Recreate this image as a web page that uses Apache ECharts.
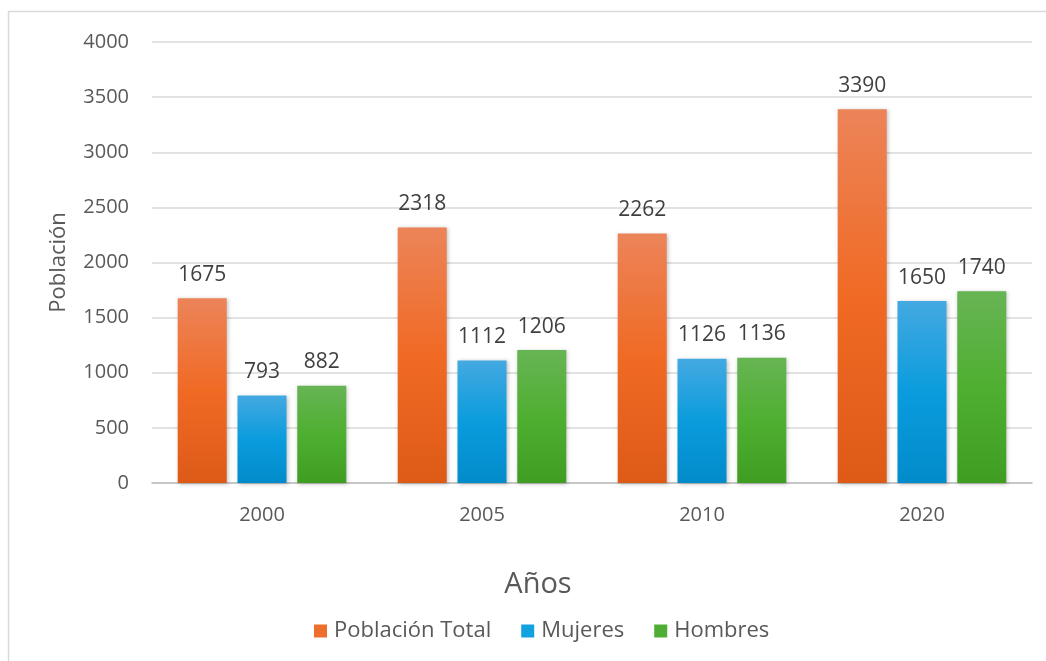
<!DOCTYPE html>
<html><head><meta charset="utf-8">
<script src="https://cdn.jsdelivr.net/npm/echarts@6/dist/echarts.min.js"></script>
<style>html,body{margin:0;padding:0;background:#fff}#c{width:1046px;height:661px}</style>
</head><body><div id="c"></div>
<script>
const categories = ['2000', '2005', '2010', '2020'];
const poblacionTotal = [1675, 2318, 2262, 3390];
const mujeres = [793, 1112, 1126, 1650];
const hombres = [882, 1206, 1136, 1740];
const yTicks = [0, 500, 1000, 1500, 2000, 2500, 3000, 3500, 4000];
const xTitle = 'Años';

const font = '"Open Sans", "Noto Sans", sans-serif';
function grad(top, mid, bot) {
  return new echarts.graphic.LinearGradient(0, 0, 0, 1, [
    {offset: 0, color: top}, {offset: 0.5, color: mid}, {offset: 1, color: bot}]);
}
const chart = echarts.init(document.getElementById('c'), null, {renderer: 'canvas'});
const labelCfg = {show: true, position: 'top', distance: 13, color: '#404040', fontSize: 21, fontFamily: font};
const shadow = {shadowColor: 'rgba(0,0,0,0.25)', shadowBlur: 4, shadowOffsetX: 1, shadowOffsetY: 1};
chart.setOption({
  animation: false,
  textStyle: {fontFamily: font},
  graphic: [
    {type: 'rect', shape: {x: 8.5, y: 11.5, width: 1100, height: 700}, style: {fill: 'none', stroke: '#d9d9d9', lineWidth: 1.5}, z: -1},
    {type: 'text', x: 538, y: 585, style: {text: xTitle, fontSize: 29, fill: '#595959', fontFamily: font, align: 'center', verticalAlign: 'middle'}}
  ],
  legend: {
    bottom: 14, left: 309, itemWidth: 13, itemHeight: 13, itemGap: 30,
    icon: 'rect',
    textStyle: {fontSize: 22, color: '#595959', fontFamily: font, padding: [0, 0, 0, 2]},
    data: [
      {name: 'Población Total', itemStyle: {color: '#EE6F2D'}},
      {name: 'Mujeres', itemStyle: {color: '#14A1E0'}},
      {name: 'Hombres', itemStyle: {color: '#4EAE33'}}
    ]
  },
  grid: {left: 152, right: 14, top: 42, bottom: 178, containLabel: false},
  xAxis: {
    type: 'category', data: categories,
    axisLine: {lineStyle: {color: '#bfbfbf', width: 1.5}},
    axisTick: {show: false},
    axisLabel: {fontSize: 20, color: '#595959', margin: 22, fontFamily: font}
  },
  yAxis: {
    type: 'value', min: 0, max: 4000, interval: 500,
    name: 'Población', nameLocation: 'middle', nameGap: 82, nameRotate: 90,
    nameTextStyle: {fontSize: 22, color: '#595959', fontFamily: font},
    axisLine: {show: false}, axisTick: {show: false},
    axisLabel: {fontSize: 20, color: '#595959', margin: 23, fontFamily: font,
      formatter: v => yTicks.includes(v) ? String(v) : ''},
    splitLine: {lineStyle: {color: '#d9d9d9', width: 1.5}}
  },
  series: [
    {name: 'Población Total', type: 'bar', data: poblacionTotal, barWidth: 49, barGap: '22%',
     itemStyle: Object.assign({color: grad('#EC8459', '#F06A24', '#DD5A17')}, shadow), label: labelCfg},
    {name: 'Mujeres', type: 'bar', data: mujeres, barWidth: 49, barGap: '22%',
     itemStyle: Object.assign({color: grad('#44A9E1', '#0A9CDD', '#028BCB')}, shadow), label: labelCfg},
    {name: 'Hombres', type: 'bar', data: hombres, barWidth: 49, barGap: '22%',
     itemStyle: Object.assign({color: grad('#67B454', '#4FAF31', '#3F9E22')}, shadow), label: labelCfg}
  ],
  color: ['#EE6F2D', '#14A1E0', '#4EAE33']
});
</script></body></html>
